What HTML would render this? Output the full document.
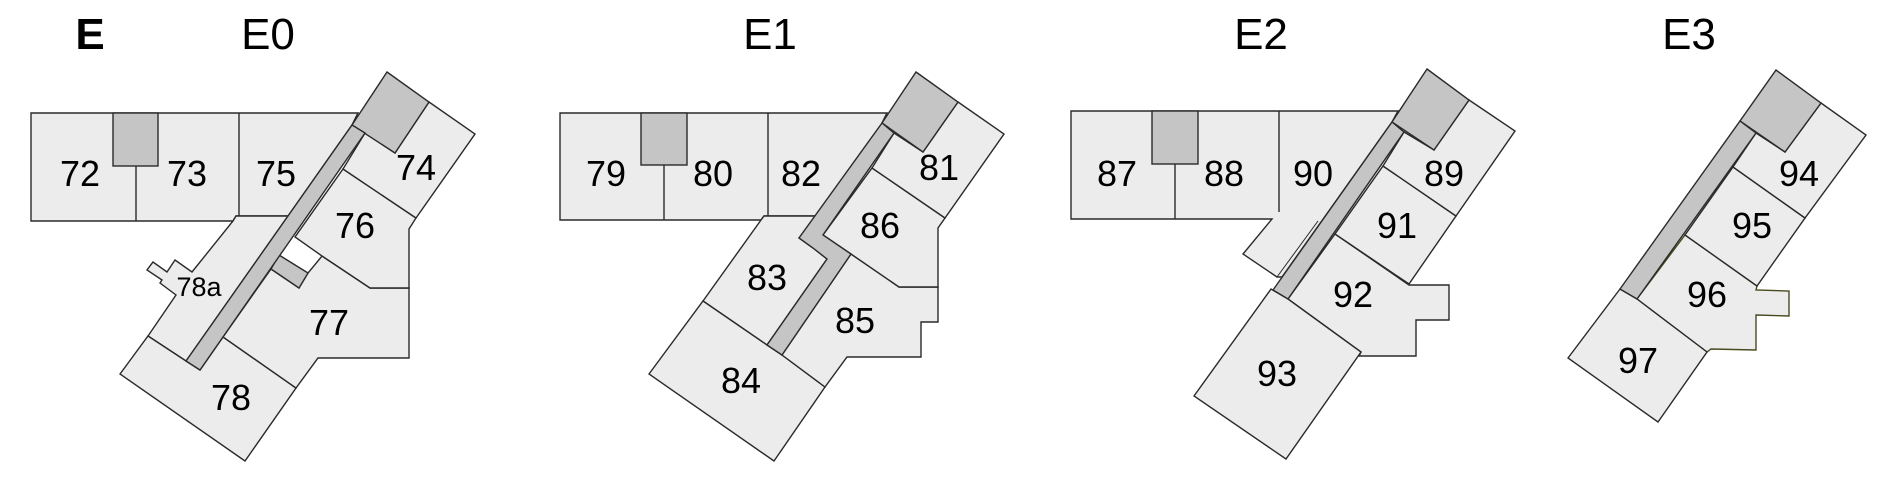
<!DOCTYPE html>
<html><head><meta charset="utf-8"><style>
html,body{margin:0;padding:0;background:#fff;}
svg{display:block;}
.r{fill:#ececec;stroke:#2a2a2a;stroke-width:1.4;stroke-linejoin:miter;}
.g{fill:#c5c5c5;stroke:#2a2a2a;stroke-width:1.4;}
.l{stroke:#2a2a2a;stroke-width:1.4;fill:none;}
text{font-family:"Liberation Sans",sans-serif;fill:#000;text-anchor:middle;}
.n{font-size:36px;}
.t{font-size:44px;}
</style></head><body>
<svg width="1900" height="495" viewBox="0 0 1900 495" xmlns="http://www.w3.org/2000/svg">
<!-- E0 -->
<polygon class="r" points="31,113 358,113 352,125 288,216 236,216 233,221 31,221"/>
<line class="l" x1="136" y1="166" x2="136" y2="221"/>
<line class="l" x1="239" y1="113" x2="239" y2="216"/>
<rect class="g" x="113" y="113" width="45" height="53"/>
<polygon class="r" points="233,221 236,216 288,216 186,361 148,336 176,295 160,283 162,280 147,270 153,262 167,272 175,260 192,272"/>
<polygon class="r" points="120,374 148,336 186,361 200,370 223,337 296,388 245,461"/>
<polygon class="r" points="322,256 370,288 409,288 409,358 318,358 296,388 223,337 271,269 299,288 308,273"/>
<polygon class="r" points="343,169 416,218 409,229 409,288 370,288 322,256 295,237"/>
<polygon class="g" points="279,255 308,273 299,288 271,269"/>
<polygon class="r" points="429,102 475,134 416,218 343,169 365,133 395,153"/>
<polygon class="g" points="387,72 429,102 395,153 352,125"/>
<polygon class="g" points="352,125 365,133 200,370 186,361"/>
<text class="t" x="90" y="49" style="font-weight:bold">E</text>
<text class="t" x="268" y="49">E0</text>
<text class="n" x="80" y="186">72</text>
<text class="n" x="187" y="186">73</text>
<text class="n" x="276" y="186">75</text>
<text class="n" x="416" y="180">74</text>
<text class="n" x="355" y="238">76</text>
<text x="199" y="296" style="font-size:27px">78a</text>
<text class="n" x="329" y="335">77</text>
<text class="n" x="231" y="410">78</text>
<!-- E1 -->
<polygon class="r" points="560,113 887,113 881,125 816,216 764,216 761,220 560,220"/>
<line class="l" x1="664" y1="165" x2="664" y2="220"/>
<line class="l" x1="768" y1="113" x2="768" y2="216"/>
<rect class="g" x="641" y="113" width="46" height="52"/>
<polygon class="r" points="703,301 761,220 764,216 816,216 799,238 813,248 827,259 767,345"/>
<polygon class="r" points="649,374 703,301 767,345 782,355 825,387 774,461"/>
<polygon class="r" points="851,254 899,287 938,287 938,322 921,322 921,357 847,357 825,387 782,355"/>
<polygon class="r" points="872,168 945,218 938,228 938,287 899,287 851,254 823,235"/>
<polygon class="r" points="958,102 1004,134 945,218 872,168 894,133 923,152"/>
<polygon class="g" points="916,72 958,102 923,152 882,123"/>
<polygon class="g" points="882,123 894,133 823,235 851,254 782,355 767,345 827,259 813,248 799,238"/>
<text class="t" x="770" y="49">E1</text>
<text class="n" x="606" y="186">79</text>
<text class="n" x="713" y="186">80</text>
<text class="n" x="801" y="186">82</text>
<text class="n" x="939" y="180">81</text>
<text class="n" x="880" y="238">86</text>
<text class="n" x="767" y="290">83</text>
<text class="n" x="855" y="333">85</text>
<text class="n" x="741" y="393">84</text>
<!-- E2 -->
<polygon class="r" points="1071,111 1398,111 1392,122 1282,277 1277,277 1243,254 1272,219 1071,219"/>
<line class="l" x1="1175" y1="164" x2="1175" y2="219"/>
<line class="l" x1="1279" y1="111" x2="1279" y2="212"/>
<rect class="g" x="1152" y="111" width="46" height="53"/>
<line class="l" x1="1277" y1="277" x2="1318" y2="221" style="stroke-width:1"/>
<polygon class="r" points="1335,234 1409,285 1449,285 1449,320 1416,320 1416,356 1359,356 1361,352 1288,299"/>
<polygon class="r" points="1194,396 1271,289 1288,299 1361,352 1286,459"/>
<polygon class="r" points="1383,166 1456,216 1409,284 1335,234"/>
<polygon class="r" points="1469,100 1515,131 1456,216 1383,166 1404,132 1434,150"/>
<polygon class="g" points="1427,69 1469,100 1434,150 1392,122"/>
<polygon class="g" points="1392,122 1404,132 1288,299 1273,290"/>
<text class="t" x="1261" y="49">E2</text>
<text class="n" x="1117" y="186">87</text>
<text class="n" x="1224" y="186">88</text>
<text class="n" x="1313" y="186">90</text>
<text class="n" x="1444" y="186">89</text>
<text class="n" x="1397" y="238">91</text>
<text class="n" x="1353" y="307">92</text>
<text class="n" x="1277" y="386">93</text>
<!-- E3 -->
<polygon class="r" points="1685,235 1757,286 1756,290 1789,291 1789,316 1756,315 1756,350 1711,349 1707,352 1637,299" style="stroke:#4a4a20"/>
<polygon class="r" points="1568,358 1620,289 1637,299 1707,352 1658,422"/>
<polygon class="r" points="1733,167 1805,218 1757,286 1685,235"/>
<polygon class="r" points="1821,103 1866,135 1805,218 1733,167 1756,133 1785,152"/>
<polygon class="g" points="1776,70 1821,103 1785,152 1740,121"/>
<polygon class="g" points="1740,121 1756,133 1637,299 1620,289"/>
<text class="t" x="1689" y="49">E3</text>
<text class="n" x="1799" y="186">94</text>
<text class="n" x="1752" y="238">95</text>
<text class="n" x="1707" y="307">96</text>
<text class="n" x="1638" y="373">97</text>
</svg>
</body></html>
